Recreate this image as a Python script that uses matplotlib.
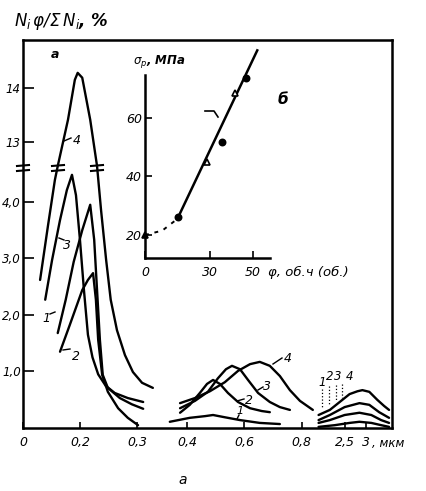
import numpy as np
import matplotlib
matplotlib.use("Agg")
import matplotlib.pyplot as plt
from matplotlib.lines import Line2D

plt.rcParams['font.family'] = ['DejaVu Sans']
plt.rcParams['font.style'] = 'italic'
plt.rcParams['mathtext.fontset'] = 'dejavusans'

W, H = 426, 491

# ---------------- data ----------------
# group 1 : 0.1 - 0.33 um
g1_x1 = [0.161, 0.175, 0.189, 0.204, 0.218, 0.225, 0.230, 0.235, 0.240, 0.249, 0.270, 0.291, 0.311]
g1_y1 = [1.68, 2.27, 2.94, 3.50, 3.95, 3.33, 2.44, 1.56, 0.94, 0.71, 0.53, 0.42, 0.34]
g1_x2 = [0.165, 0.182, 0.204, 0.214, 0.223, 0.228, 0.232, 0.239, 0.249, 0.267, 0.284, 0.302]
g1_y2 = [1.35, 1.82, 2.44, 2.62, 2.74, 2.27, 1.56, 0.94, 0.64, 0.35, 0.18, 0.05]
g1_x3 = [0.139, 0.151, 0.165, 0.177, 0.186, 0.193, 0.200, 0.207, 0.214, 0.222, 0.232, 0.245, 0.261, 0.284, 0.311]
g1_y3 = [2.27, 2.97, 3.68, 4.21, 4.48, 4.12, 3.33, 2.44, 1.65, 1.25, 0.95, 0.75, 0.62, 0.53, 0.46]
g1_x4 = [0.130, 0.144, 0.156, 0.161, 0.179, 0.191, 0.196, 0.204, 0.218, 0.230, 0.237, 0.246, 0.254, 0.265, 0.279, 0.293, 0.309, 0.328]
g1_y4 = [2.62, 3.59, 4.39, 12.55, 13.41, 14.15, 14.28, 14.19, 13.41, 12.55, 3.86, 2.97, 2.27, 1.73, 1.29, 0.99, 0.80, 0.71]

# group 2 : 0.35 - 0.85 um
g2_x1 = [0.347, 0.410, 0.463, 0.491, 0.532, 0.585, 0.654, 0.724]
g2_y1 = [0.11, 0.18, 0.21, 0.23, 0.19, 0.14, 0.09, 0.07]
g2_x2 = [0.376, 0.410, 0.445, 0.470, 0.491, 0.515, 0.543, 0.578, 0.620, 0.661, 0.689]
g2_y2 = [0.27, 0.41, 0.62, 0.78, 0.85, 0.78, 0.62, 0.46, 0.35, 0.30, 0.28]
g2_x3 = [0.376, 0.428, 0.473, 0.508, 0.536, 0.557, 0.585, 0.613, 0.648, 0.689, 0.724, 0.759]
g2_y3 = [0.35, 0.48, 0.64, 0.88, 1.04, 1.10, 1.04, 0.85, 0.62, 0.46, 0.37, 0.32]
g2_x4 = [0.376, 0.428, 0.480, 0.532, 0.578, 0.620, 0.654, 0.689, 0.724, 0.759, 0.794, 0.839]
g2_y4 = [0.44, 0.53, 0.65, 0.81, 1.01, 1.13, 1.17, 1.10, 0.92, 0.67, 0.48, 0.32]

# group 3 : 1.9 - 3.5 um
g3_x4 = [1.886, 2.159, 2.386, 2.614, 2.795, 2.909, 3.068, 3.250, 3.409, 3.523]
g3_y4 = [0.23, 0.32, 0.46, 0.60, 0.65, 0.67, 0.64, 0.50, 0.39, 0.32]
g3_x3 = [1.886, 2.159, 2.500, 2.841, 3.068, 3.295, 3.523]
g3_y3 = [0.14, 0.23, 0.37, 0.44, 0.41, 0.28, 0.18]
g3_x2 = [1.886, 2.159, 2.500, 2.841, 3.114, 3.341, 3.523]
g3_y2 = [0.09, 0.14, 0.23, 0.27, 0.23, 0.14, 0.09]
g3_x1 = [1.886, 2.273, 2.614, 2.841, 3.114, 3.341, 3.523]
g3_y1 = [0.02, 0.05, 0.09, 0.11, 0.09, 0.05, 0.02]

x_ticks = [0.1, 0.2, 0.3, 0.4, 0.6, 0.8, 2.5, 3.0]
x_labels = ["0", "0,2", "0,3", "0,4", "0,6", "0,8", "2,5", "3"]
y_ticks = [1, 2, 3, 4, 13, 14]
y_labels = ["1,0", "2,0", "3,0", "4,0", "13", "14"]

# inset: sigma_p vs phi
ins_phi = [0, 15.3, 28.7, 35.6, 41.7, 46.8]
ins_sig = [20, 26.1, 44.9, 51.7, 68.5, 73.6]
ins_fill = [True, True, False, True, False, True]
ins_mark = ['^', 'o', '^', 'o', '^', 'o']
fit_phi = [15, 52]
fit_sig = [25.5, 83]
dash_phi = [0, 8, 15]
dash_sig = [20, 21.5, 25.5]

# ---------------- figure ----------------
fig = plt.figure(figsize=(W / 100, H / 100), dpi=100)
fig.patch.set_facecolor('white')

def fx(px):
    return px / W

def fy(py):
    return 1 - py / H

XK_D = [0.1, 0.33, 0.35, 0.85, 1.9, 3.6]
XK_P = [23, 154, 172.6, 316, 318.6, 392.4]
YK_D = [0, 4.6, 12.55, 15.0]
YK_P = [0, 260, 262, 394]

def xf(x):
    return np.interp(np.asarray(x, dtype=float), XK_D, XK_P)

def xi(p):
    return np.interp(np.asarray(p, dtype=float), XK_P, XK_D)

def yf(y):
    return np.interp(np.asarray(y, dtype=float), YK_D, YK_P)

def yi(p):
    return np.interp(np.asarray(p, dtype=float), YK_P, YK_D)

ax = fig.add_axes([fx(23), fy(428), fx(392.4) - fx(23), fy(40) - fy(428)])
ax.set_xscale('function', functions=(xf, xi))
ax.set_yscale('function', functions=(yf, yi))
ax.set_xlim(0.1, 3.6)
ax.set_ylim(0, 14.89)

lw = 1.7
for xs, ys in [(g1_x1, g1_y1), (g1_x2, g1_y2), (g1_x3, g1_y3), (g1_x4, g1_y4),
               (g2_x1, g2_y1), (g2_x2, g2_y2), (g2_x3, g2_y3), (g2_x4, g2_y4),
               (g3_x1, g3_y1), (g3_x2, g3_y2), (g3_x3, g3_y3), (g3_x4, g3_y4)]:
    ax.plot(xs, ys, color='black', lw=lw, solid_joinstyle='round', solid_capstyle='round')

ax.set_xticks(x_ticks, x_labels)
ax.set_yticks(y_ticks, y_labels)
ax.minorticks_off()
ax.tick_params(axis='x', direction='in', length=4, width=1.2, pad=6, labelsize=9)
ax.tick_params(axis='y', direction='in', length=8, width=1.2, pad=1.5, labelsize=8.5)
for s in ax.spines.values():
    s.set_linewidth(1.8)

# text decorations
def ftext(px, py, s, **kw):
    kw.setdefault('fontsize', 9)
    kw.setdefault('ha', 'center')
    kw.setdefault('va', 'center')
    fig.text(fx(px), fy(py), s, **kw)

def fline(xs, ys, **kw):
    kw.setdefault('color', 'black')
    kw.setdefault('lw', 1.0)
    fig.add_artist(Line2D([fx(v) for v in xs], [fy(v) for v in ys], transform=fig.transFigure, **kw))

ftext(14, 22, r"$N_i\,\varphi/\Sigma\, N_i$, %", ha='left', fontsize=12, fontweight='bold')
ftext(372, 444, ", мкм", ha='left', fontsize=8.5)
ftext(55, 54, "а", fontsize=9, fontweight='bold')
ftext(183, 480, "а", fontsize=10)
ftext(283, 100, "б", fontsize=11, fontweight='bold')

# break marks
for bx in [23, 58, 97]:
    fline([bx - 6, bx + 6], [166, 165], lw=1.5)
    fline([bx - 6, bx + 6], [171, 170], lw=1.5)

# curve labels group 1
ftext(77, 141, "4"); fline([64, 71], [141, 138])
ftext(67, 246, "3"); fline([59, 64], [238, 240])
ftext(46, 318, "1"); fline([50, 55], [314, 312])
ftext(76, 357, "2"); fline([63, 70], [350, 349])
# group 2
ftext(288, 358, "4"); fline([273, 282], [364, 358])
ftext(267, 386, "3"); fline([258, 263], [390, 387])
ftext(249, 400, "2"); fline([237, 244], [401, 399])
ftext(240, 411, "1", fontsize=8); fline([237, 239], [419, 415])
# group 3
for lx, lab in zip([322, 330, 338, 350], ["1", "2", "3", "4"]):
    ftext(lx, 377 if lab != "1" else 382, lab, fontsize=8.5)
for dx, y0, y1 in [(322, 389, 408), (329, 386, 404), (336, 385, 400), (342, 384, 398)]:
    fline([dx, dx], [y0, y1], lw=0.9, ls=':')

# ---------------- inset ----------------
axi = fig.add_axes([fx(145), fy(258), fx(270) - fx(145), fy(75) - fy(258)])
axi.patch.set_alpha(0)
axi.set_xlim(0, 57.9)
axi.set_ylim(12.15, 74.6)
for sp in ['top', 'right']:
    axi.spines[sp].set_visible(False)
for sp in ['left', 'bottom']:
    axi.spines[sp].set_linewidth(1.8)
axi.plot(fit_phi, fit_sig, color='black', lw=1.8, clip_on=False)
axi.plot(dash_phi, dash_sig, color='black', lw=1.4, ls=(0, (2, 3)), clip_on=False)
for p, s, f, m in zip(ins_phi, ins_sig, ins_fill, ins_mark):
    axi.plot([p], [s], marker=m, ms=4.5, mfc='black' if f else 'white',
             mec='black', mew=1.2, clip_on=False, zorder=5)
axi.set_xticks([0, 30, 50], ["0", "30", "50"])
axi.set_yticks([20, 40, 60], ["20", "40", "60"])
axi.tick_params(axis='both', direction='in', length=5, width=1.2, labelsize=9)
axi.tick_params(axis='x', pad=6)
axi.tick_params(axis='y', pad=2)
ftext(268, 272, "φ, об.ч (об.)", ha='left', fontsize=9.5)
ftext(133, 62, r"$\sigma_p$, МПа", ha='left', fontsize=8.5, fontweight='bold')
fline([205, 214, 218], [111, 111, 117], lw=1.2)

fig.savefig("out.png", dpi=100, facecolor='white')
